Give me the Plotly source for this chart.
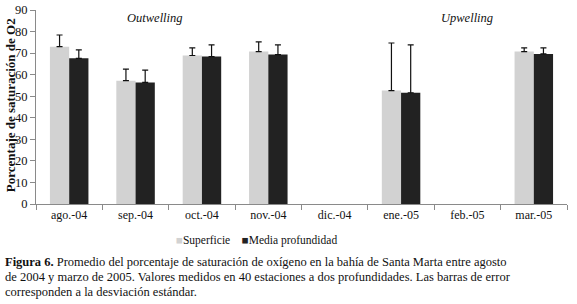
import plotly.graph_objects as go

months = ["ago.-04", "sep.-04", "oct.-04", "nov.-04", "dic.-04", "ene.-05", "feb.-05", "mar.-05"]
superficie = [73.0, 57.2, 68.9, 70.7, None, 52.6, None, 70.7]
superficie_sd = [5.4, 5.4, 3.5, 4.5, None, 22.1, None, 1.7]
media = [67.6, 56.4, 68.4, 69.3, None, 51.6, None, 69.6]
media_sd = [3.9, 5.7, 5.4, 4.5, None, 22.2, None, 2.8]
y_ticks = [0, 10, 20, 30, 40, 50, 60, 70, 80, 90]
caption_lines = [
    "<b>Figura 6.</b> Promedio del porcentaje de saturación de oxígeno en la bahía de Santa Marta entre agosto",
    "de 2004 y marzo de 2005. Valores medidos en 40 estaciones a dos profundidades. Las barras de error",
    "corresponden a la desviación estándar.",
]

W, H = 577, 304
# plot area in window pixels
PX0, PX1, PY0, PY1 = 36, 567, 9.7, 204
L, R, T, B = PX0, W - PX1, PY0, H - PY1

def px_x(x):
    return (x - PX0) / (PX1 - PX0)

def px_y(y):
    return (PY1 - y) / (PY1 - PY0)

FONT = "'Liberation Serif', 'DejaVu Serif', serif"
C_SUP = "#d2d2d2"
C_MED = "#222222"

fig = go.Figure()
fig.add_trace(go.Bar(
    x=months, y=superficie, name="Superficie",
    marker=dict(color=C_SUP, line=dict(width=0)),
    error_y=dict(type="data", array=superficie_sd, arrayminus=[0] * len(months),
                 symmetric=False, color="#111111", thickness=1.2, width=3),
))
fig.add_trace(go.Bar(
    x=months, y=media, name="Media profundidad",
    marker=dict(color=C_MED, line=dict(width=0)),
    error_y=dict(type="data", array=media_sd, arrayminus=[0] * len(months),
                 symmetric=False, color="#111111", thickness=1.2, width=3),
))

annotations = [
    dict(text="<i>Outwelling</i>", xref="paper", yref="paper", x=px_x(155), y=px_y(18),
         xanchor="center", yanchor="middle", showarrow=False, font=dict(family=FONT, size=12.5)),
    dict(text="<i>Upwelling</i>", xref="paper", yref="paper", x=px_x(467), y=px_y(18),
         xanchor="center", yanchor="middle", showarrow=False, font=dict(family=FONT, size=12.5)),
    dict(text="<b>Porcentaje de saturación de O2</b>", xref="paper", yref="paper",
         x=px_x(10), y=px_y(105), xanchor="center", yanchor="middle", textangle=-90,
         showarrow=False, font=dict(family=FONT, size=13)),
    dict(text=f"<span style='color:{C_SUP}'>■</span>Superficie    "
              f"<span style='color:{C_MED}'>■</span>Media profundidad",
         xref="paper", yref="paper", x=px_x(256), y=px_y(241), xanchor="center", yanchor="middle",
         showarrow=False, font=dict(family=FONT, size=11.5)),
]
for i, line in enumerate(caption_lines):
    annotations.append(dict(text=line, xref="paper", yref="paper", x=px_x(3), y=px_y(262 + 15 * i),
                            xanchor="left", yanchor="middle", align="left", showarrow=False,
                            font=dict(family=FONT, size=12.5, color="#111111")))

fig.update_layout(
    width=W, height=H,
    margin=dict(l=L, r=R, t=T, b=B, pad=0),
    paper_bgcolor="white", plot_bgcolor="white",
    barmode="group", bargap=0.42, bargroupgap=0,
    font=dict(family=FONT, size=11, color="#111111"),
    showlegend=False,
    hovermode=False,
    xaxis=dict(
        showline=True, linecolor="#8a8a8a", linewidth=1, automargin=False,
        ticks="outside", tickson="boundaries", ticklen=5, tickcolor="#8a8a8a",
        tickfont=dict(family=FONT, size=12), showgrid=False, zeroline=False,
    ),
    yaxis=dict(
        range=[0, 90], tickvals=y_ticks, showline=True, linecolor="#8a8a8a", linewidth=1,
        automargin=False,
        ticks="outside", ticklen=5, tickcolor="#8a8a8a", showgrid=False, zeroline=False,
        tickfont=dict(family=FONT, size=12.5),
    ),
    annotations=annotations,
)

# remove the default 8px page margin so the figure sits at the window's top-left corner
fig.write_html("out.html", config={"displayModeBar": False},
               post_script="document.body.style.margin='0px';")
